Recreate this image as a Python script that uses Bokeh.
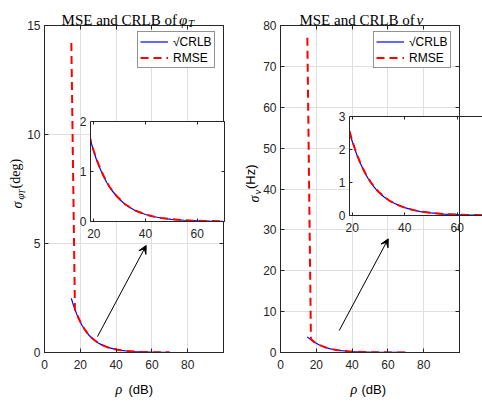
from bokeh.plotting import figure
from bokeh.models import (Range1d, FixedTicker, LinearAxis, Label, Arrow, VeeHead,
                          GridBox, Span, Column)
from bokeh.embed import file_html
from bokeh.resources import INLINE
import math

# ---------------- data ----------------
rho_db = [15, 16, 17, 18, 19, 20, 21, 22, 23, 24, 25, 26, 27, 28, 29, 30,
          32, 34, 36, 38, 40, 43, 46, 50, 55, 60, 65, 70]

phi_crlb = [2.48, 2.21, 1.97, 1.76, 1.57, 1.40, 1.24, 1.11, 0.99, 0.88, 0.78, 0.70,
            0.62, 0.56, 0.50, 0.44, 0.35, 0.28, 0.22, 0.18, 0.14, 0.10, 0.07,
            0.044, 0.025, 0.014, 0.008, 0.0044]
phi_rmse = [14.2, 8.1, 1.98, 1.78, 1.58, 1.41, 1.25, 1.12, 1.00, 0.89, 0.79, 0.70,
            0.63, 0.56, 0.50, 0.45, 0.35, 0.28, 0.22, 0.18, 0.14, 0.10, 0.07,
            0.045, 0.025, 0.014, 0.008, 0.0045]

nu_crlb = [3.80, 3.45, 3.12, 2.82, 2.52, 2.25, 2.01, 1.79, 1.60, 1.43, 1.27, 1.13,
           1.01, 0.90, 0.80, 0.72, 0.57, 0.46, 0.37, 0.30, 0.24, 0.17, 0.12,
           0.078, 0.044, 0.025, 0.014, 0.008]
nu_rmse = [77.0, 40.2, 3.35, 2.85, 2.55, 2.27, 2.03, 1.81, 1.61, 1.44, 1.28, 1.14,
           1.02, 0.91, 0.81, 0.72, 0.58, 0.46, 0.37, 0.30, 0.24, 0.17, 0.12,
           0.079, 0.045, 0.025, 0.014, 0.008]

main_x_ticks = [0, 20, 40, 60, 80]
phi_y_ticks = [0, 5, 10, 15]
nu_y_ticks = [0, 10, 20, 30, 40, 50, 60, 70, 80]
inset_x_ticks = [20, 40, 60]
phi_inset_y_ticks = [0, 1, 2]
nu_inset_y_ticks = [0, 1, 2, 3]

phi_arrow = dict(x_start=29.6, y_start=0.73, x_end=56.8, y_end=4.91)
nu_arrow = dict(x_start=32.8, y_start=5.38, x_end=60.2, y_end=27.8)

# ---------------- style ----------------
AX = "#262626"
GRID = "#dfdfdf"
BLUE = "#0000ff"
RED = "#ff0000"
SANS = "Liberation Sans"
SERIF = "Liberation Serif"
W, H = 482, 400


def style_axis(ax, ticks, labels=True, tick_in=4):
    ax.ticker = FixedTicker(ticks=ticks)
    ax.axis_line_color = AX
    ax.axis_line_width = 1
    ax.major_tick_line_color = AX
    ax.major_tick_in = tick_in
    ax.major_tick_out = 0
    ax.minor_tick_line_color = None
    ax.major_label_text_font = SANS
    ax.major_label_text_font_size = "12px"
    if labels:
        ax.major_label_text_color = AX
    else:
        # tick marks only (box ticks), labels not drawn
        ax.major_label_text_color = None
        ax.major_label_standoff = 0


def make_main(width, min_left, min_right, y_end, y_ticks):
    p = figure(width=width, height=H, x_range=Range1d(0, 100), y_range=Range1d(0, y_end),
               output_backend="svg", toolbar_location=None, title=None,
               min_border_left=min_left, min_border_right=min_right,
               min_border_top=25, min_border_bottom=H - 352)
    p.background_fill_color = "white"
    p.border_fill_color = "white"
    p.outline_line_color = AX
    top = LinearAxis()
    right = LinearAxis()
    p.add_layout(top, "above")
    p.add_layout(right, "right")
    style_axis(p.below[0], main_x_ticks, True)
    p.below[0].major_label_standoff = 7
    style_axis(p.left[0], y_ticks, True)
    p.left[0].major_label_standoff = 4
    style_axis(top, main_x_ticks, False)
    style_axis(right, y_ticks, False)
    p.xgrid.ticker = FixedTicker(ticks=main_x_ticks)
    p.ygrid.ticker = FixedTicker(ticks=y_ticks)
    p.xgrid.grid_line_color = GRID
    p.ygrid.grid_line_color = GRID
    return p


def add_lines(p, crlb, rmse, legend=True):
    kw1 = dict(legend_label="\u221aCRLB") if legend else {}
    kw2 = dict(legend_label="RMSE") if legend else {}
    p.line(rho_db, crlb, line_color=BLUE, line_width=1.2, **kw1)
    p.line(rho_db, rmse, line_color=RED, line_width=2, line_dash="8 5", **kw2)


def style_legend(p):
    leg = p.legend[0]
    leg.location = (93, 284)
    leg.margin = 0
    leg.padding = 2
    leg.spacing = 1
    leg.label_height = 15
    leg.glyph_height = 15
    leg.glyph_width = 28
    leg.label_standoff = 5
    leg.label_text_font = SANS
    leg.label_text_font_size = "12px"
    leg.label_text_color = "black"
    leg.border_line_color = AX
    leg.border_line_width = 1
    leg.background_fill_color = "white"
    leg.background_fill_alpha = 1


B = 44  # generous transparent border around each inset frame


def make_inset(frame_w, frame_h, right_border, xr, yr, yticks, right_axis):
    q = figure(width=B + frame_w + right_border, height=B + frame_h + B,
               x_range=Range1d(*xr), y_range=Range1d(*yr),
               output_backend="svg", toolbar_location=None, title=None,
               min_border_left=B, min_border_right=right_border,
               min_border_top=B, min_border_bottom=B)
    q.border_fill_color = None
    q.border_fill_alpha = 0
    q.background_fill_color = "white"
    q.outline_line_color = None
    q.grid.visible = False
    top = LinearAxis()
    q.add_layout(top, "above")
    style_axis(q.below[0], inset_x_ticks, True, 3)
    q.below[0].major_label_standoff = 7
    style_axis(q.left[0], yticks, True, 3)
    q.left[0].major_label_standoff = 4
    style_axis(top, inset_x_ticks, False, 3)
    if right_axis:
        right = LinearAxis()
        q.add_layout(right, "right")
        style_axis(right, yticks, False, 3)
    return q


def wrap(fig, top=0, left=0):
    # each figure sits in its own container so the grid does not align plot borders
    return Column(children=[fig], margin=(top, 0, 0, left), align="start")


# ---------------- main panels ----------------
pL = make_main(244, 44, 21, 15, phi_y_ticks)
add_lines(pL, phi_crlb, phi_rmse)
style_legend(pL)
pL.add_layout(Arrow(end=VeeHead(size=8, line_color="black", fill_color="black", line_width=1),
                    line_color="black", line_width=1, **phi_arrow))

pR = make_main(238, 36, 23, 80, nu_y_ticks)
add_lines(pR, nu_crlb, nu_rmse)
style_legend(pR)
pR.add_layout(Arrow(end=VeeHead(size=8, line_color="black", fill_color="black", line_width=1),
                    line_color="black", line_width=1, **nu_arrow))

# ---------------- insets ----------------
iL = make_inset(134, 100, B, (18.72, 70.56), (0, 2), phi_inset_y_ticks, True)
add_lines(iL, phi_crlb, phi_rmse, legend=False)

iR = make_inset(133, 99, 0, (18.97, 69.64), (0, 3), nu_inset_y_ticks, False)
add_lines(iR, nu_crlb, nu_rmse, legend=False)
# the main panel's right box edge shows through the inset in the reference
iR.add_layout(Span(location=60.88, dimension="height", line_color=AX, line_width=1,
                   level="overlay"))

# ---------------- text overlay (page pixel coordinates) ----------------
ov = figure(width=W, height=H, x_range=Range1d(0, W), y_range=Range1d(H, 0),
            output_backend="svg", toolbar_location=None, title=None,
            min_border=0, x_axis_location=None, y_axis_location=None)
ov.border_fill_color = None
ov.border_fill_alpha = 0
ov.background_fill_color = None
ov.background_fill_alpha = 0
ov.outline_line_color = None
ov.grid.visible = False


def lab(x, y, text, size, font=SERIF, style="normal", align="left", angle=0.0):
    ov.add_layout(Label(x=x, y=y, text=text, text_font=font, text_font_size=size,
                        text_font_style=style, text_align=align, text_baseline="alphabetic",
                        text_color="black", angle=angle))


R90 = math.pi / 2
# left panel texts
lab(176.5, 19, "MSE and CRLB of", "15px", align="right")
lab(178.5, 19, "\u03c6", "15px", style="italic")
lab(187.5, 22, "T", "11px", style="italic")
lab(16.5, 208, "\u03c3", "14px", style="italic", angle=R90)
lab(19.5, 199, "\u03c6", "11px", style="italic", angle=R90)
lab(21.5, 193.5, "T", "8px", style="italic", angle=R90)
lab(14.5, 188, "(deg)", "14px", angle=R90)
lab(115, 389, "\u03c1", "14px", style="italic")
lab(128, 389, "(dB)", "13px", font=SANS)
# right panel texts
lab(414.3, 19, "MSE and CRLB of", "15px", align="right")
lab(416, 19, "\u03bd", "15px", style="italic")
lab(254, 202, "\u03c3", "14px", style="italic", angle=R90)
lab(256.5, 194, "\u03bd", "11px", style="italic", angle=R90)
lab(250, 188.5, "(Hz)", "13px", font=SANS, angle=R90)
lab(350, 389, "\u03c1", "14px", style="italic")
lab(361, 389, "(dB)", "13px", font=SANS)

layout = GridBox(children=[(wrap(pL), 0, 0), (wrap(pR), 0, 1),
                           (wrap(iL, 121 - B, 90 - B), 0, 0, 1, 2),
                           (wrap(iR, 116 - B, 349 - B), 0, 0, 1, 2),
                           (wrap(ov), 0, 0, 1, 2)])

open("out.html", "w").write(file_html(layout, INLINE))
